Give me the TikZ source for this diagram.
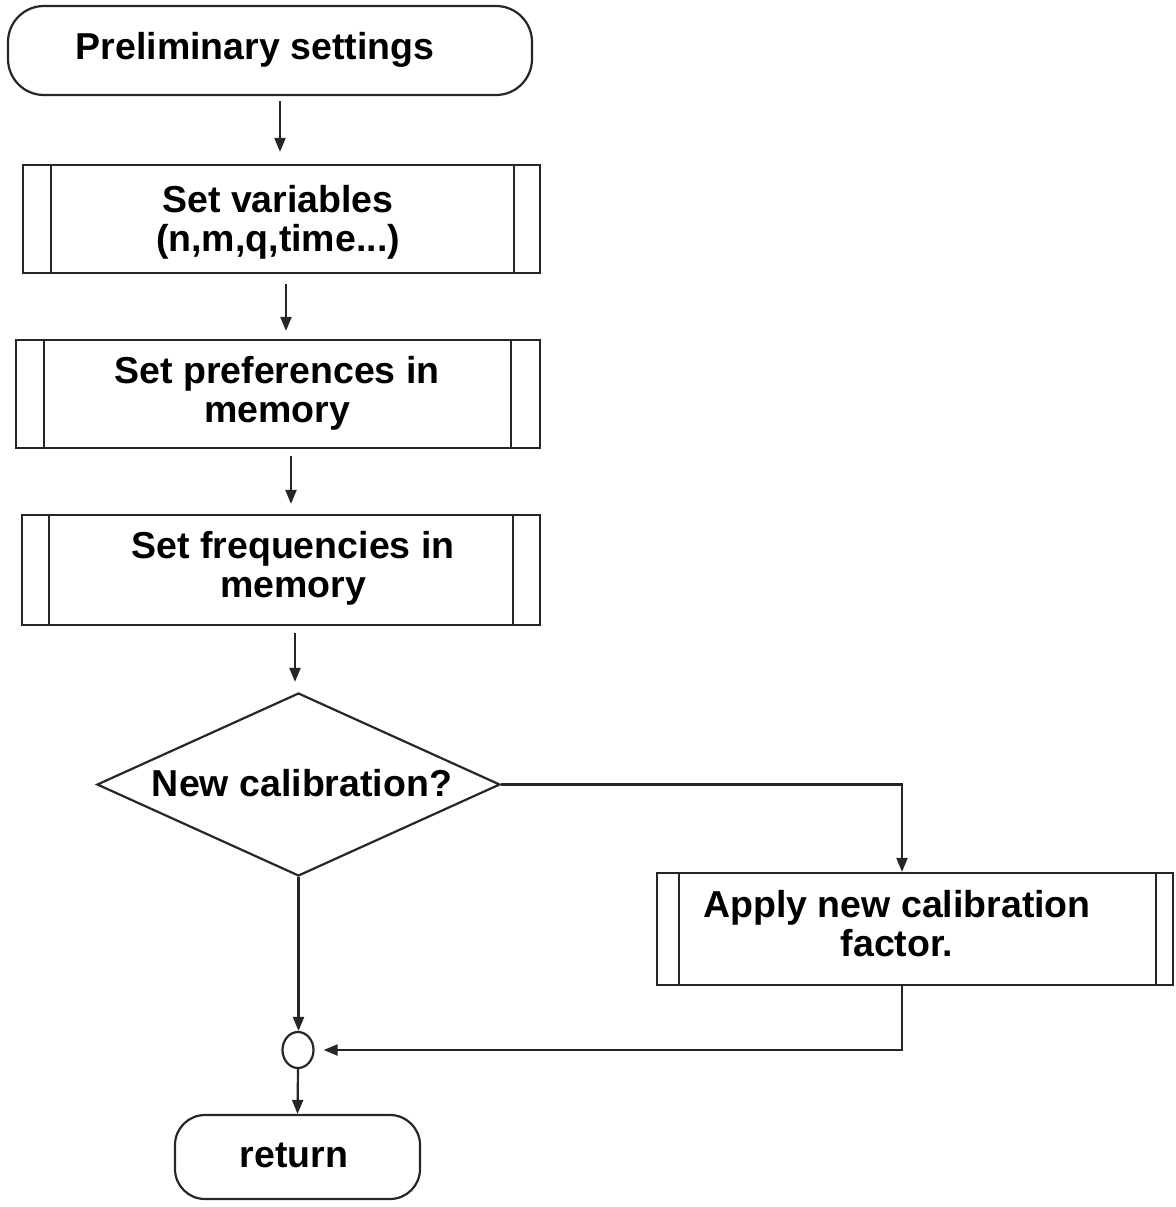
\documentclass[tikz,border=0pt]{standalone}
\usepackage{fontspec}
\setmainfont{Liberation Sans}
\usetikzlibrary{arrows.meta,shapes.geometric,calc}
\newcommand\procbars[3]{%
  \draw[line] ([xshift=#2]#1.north west) -- ([xshift=#2]#1.south west);
  \draw[line] ([xshift=-#3]#1.north east) -- ([xshift=-#3]#1.south east);}
\begin{document}
\begin{tikzpicture}[x=1pt,y=-1pt,
  line/.style={draw=black!85, line width=2.2pt},
  arr/.style={line, -{Triangle[length=14pt,width=11pt]}},
  term/.style={line, rounded corners=36pt, inner sep=0pt},
  proc/.style={line, inner sep=0pt},
  txt/.style={font=\fontsize{37.5}{39}\selectfont\bfseries, align=center, inner sep=0pt, text=black}]
\useasboundingbox (0,0) rectangle (1175,1207);

% shapes
\node[term, minimum width=524pt, minimum height=89pt] (start) at (270,50.5) {};
\node[txt] (tstart) at (255,50) {Preliminary settings};

\node[proc, minimum width=517pt, minimum height=108pt] (b1) at (281.5,219) {};
\procbars{b1}{29pt}{27pt}
\node[txt] (t1) at (278,222) {Set variables\\(n,m,q,time...)};

\node[proc, minimum width=524pt, minimum height=108pt] (b2) at (278,394) {};
\procbars{b2}{29pt}{30pt}
\node[txt] (t2) at (277,393) {Set preferences in\\memory};

\node[proc, minimum width=518pt, minimum height=110pt] (b3) at (281,570) {};
\procbars{b3}{28pt}{28pt}
\node[txt] (t3) at (293,568) {Set frequencies in\\memory};

\node[line, diamond, aspect=2.2, minimum width=403pt, minimum height=183pt, inner sep=0pt] (dec) at (298.5,784.5) {};
\node[txt] (tdec) at (302,783) {New calibration?};

\node[proc, minimum width=516pt, minimum height=112pt] (b4) at (915,929) {};
\procbars{b4}{23pt}{18pt}
\node[txt] (t4) at (897,924) {Apply new calibration\\factor.};

\node[line, ellipse, minimum width=31pt, minimum height=36pt, inner sep=0pt] (circ) at (298,1050) {};

\node[term, rounded corners=30pt, minimum width=245pt, minimum height=84pt] (ret) at (297.5,1157) {};
\node[txt] (tret) at (294,1155) {return};

% connectors
\draw[arr] ([xshift=10pt,yshift=-5pt]start.south) -- ([xshift=-1.5pt,yshift=12pt]b1.north);
\draw[arr] ([xshift=4.5pt,yshift=-10pt]b1.south) -- ([xshift=8pt,yshift=8pt]b2.north);
\draw[arr] ([xshift=13pt,yshift=-7pt]b2.south) -- ([xshift=10pt,yshift=10pt]b3.north);
\draw[arr] ([xshift=14pt,yshift=-7pt]b3.south) -- ([xshift=-3.5pt,yshift=10pt]dec.north);
\draw[arr] (dec.east) -| ([xshift=-13pt]b4.north);
\draw[arr] (dec.south) -- (dec.south |- circ.north);
\draw[arr] ([xshift=-13pt]b4.south) |- ([xshift=9pt]circ.east);
\draw[arr] (circ.south) -- (ret.north);
\end{tikzpicture}
\end{document}
